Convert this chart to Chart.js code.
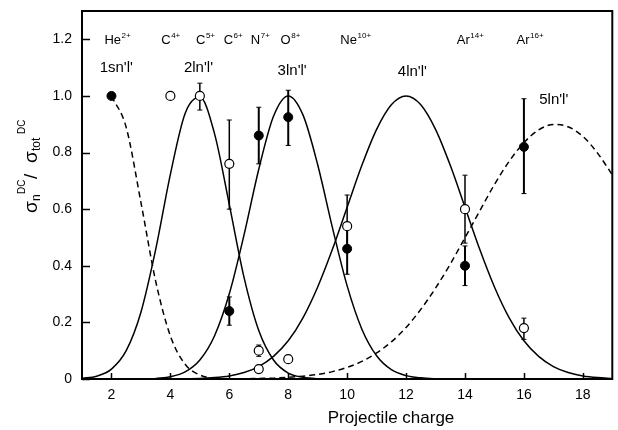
<!DOCTYPE html>
<html>
<head>
<meta charset="utf-8">
<script src="https://cdn.jsdelivr.net/npm/chart.js@4.4.1/dist/chart.umd.min.js"></script>
<style>
  body { margin: 0; background: #fff; }
  #wrap { width: 618px; height: 430px; position: relative; }
</style>
</head>
<body>
<div id="wrap"><canvas id="chart"></canvas></div>
<script>
const FONT = '"Liberation Sans", Arial, sans-serif';

// projectile charge grid for the fitted shell curves
const chargeGrid = [1, 1.5, 2, 2.5, 3, 3.5, 4, 4.5, 5, 5.5, 6, 6.5, 7, 7.5, 8, 8.5, 9, 9.5,
  10, 10.5, 11, 11.5, 12, 12.5, 13, 13.5, 14, 14.5, 15, 15.5, 16, 16.5, 17, 17.5, 18, 18.5, 19];

// curves (null = not drawn)
const curve1s = [null, null, 1.0, 0.889, 0.624, 0.346, 0.152, 0.052, 0.014, 0.003, 0.0];
const curve2l = [0.002, 0.010, 0.035, 0.100, 0.236, 0.457, 0.723, 0.938, 0.996, 0.866, 0.616,
  0.359, 0.171, 0.067, 0.021, 0.006, 0.001, 0.0];
const curve3l = [null, null, null, null, null, 0.002, 0.008, 0.025, 0.067, 0.153, 0.301, 0.509,
  0.741, 0.928, 1.0, 0.933, 0.757, 0.535, 0.329, 0.176, 0.082, 0.033, 0.012, 0.004, 0.001, 0.0];
const curve4l = [null, null, null, null, null, null, 0.0, 0.001, 0.002, 0.005, 0.011, 0.023,
  0.044, 0.080, 0.135, 0.216, 0.325, 0.458, 0.607, 0.755, 0.882, 0.969, 1.0, 0.969, 0.882,
  0.755, 0.607, 0.458, 0.325, 0.216, 0.135, 0.080, 0.044, 0.023, 0.011, 0.005, 0.002];
const curve5l = [null, null, null, null, null, null, null, null, null, null, 0.0005, 0.001,
  0.002, 0.003, 0.006, 0.010, 0.016, 0.026, 0.041, 0.062, 0.092, 0.131, 0.182, 0.246, 0.321,
  0.406, 0.499, 0.594, 0.687, 0.769, 0.835, 0.880, 0.899, 0.891, 0.857, 0.798, 0.721];

// measured points
const filledX  = [2, 6, 7, 8, 10, 14, 16];
const filledY  = [1.0, 0.24, 0.86, 0.925, 0.46, 0.40, 0.82];
const filledLo = [null, 0.19, 0.76, 0.825, 0.37, 0.33, 0.655];
const filledHi = [null, 0.29, 0.96, 1.02, 0.55, 0.47, 0.99];

const openX  = [4, 5, 6, 7, 7, 8, 10, 14, 16];
const openY  = [1.0, 1.0, 0.76, 0.10, 0.035, 0.07, 0.54, 0.60, 0.18];
const openLo = [null, 0.95, 0.60, 0.08, null, null, 0.45, 0.48, 0.14];
const openHi = [null, 1.045, 0.915, 0.12, null, null, 0.65, 0.72, 0.215];

const xTickValues = [2, 4, 6, 8, 10, 12, 14, 16, 18];
const yTickValues = [0, 0.2, 0.4, 0.6, 0.8, 1.0, 1.2];
const yTickLabels = ['0', '0.2', '0.4', '0.6', '0.8', '1.0', '1.2'];

const ionSymbols = ['He', 'C', 'C', 'C', 'N', 'O', 'Ne', 'Ar', 'Ar'];
const ionCharges = ['2+', '4+', '5+', '6+', '7+', '8+', '10+', '14+', '16+'];
const ionAt = [1.76, 3.69, 4.87, 5.81, 6.73, 7.74, 9.77, 13.72, 15.75];

const shellLabels = ["1sn'l'", "2ln'l'", "3ln'l'", "4ln'l'", "5ln'l'"];
const shellAtX = [1.6, 4.46, 7.64, 11.72, 16.52];
const shellAtY = [1.10, 1.10, 1.09, 1.085, 0.985];

function toPoints(ys) {
  const pts = [];
  ys.forEach((v, i) => { if (v != null) pts.push({ x: chargeGrid[i], y: v }); });
  return pts;
}

function curve(ys, dashed) {
  return {
    data: toPoints(ys),
    showLine: true,
    borderColor: '#000',
    borderWidth: 1.5,
    borderDash: dashed ? [6, 4] : [],
    pointRadius: 0,
    cubicInterpolationMode: 'monotone'
  };
}

const errorBars = {
  id: 'errorBars',
  beforeDatasetsDraw(chart) {
    const { ctx, scales: { x, y } } = chart;
    ctx.save();
    ctx.strokeStyle = '#000';
    [[filledX, filledLo, filledHi, 2], [openX, openLo, openHi, 1.5]].forEach(([xs, lo, hi, lw]) => {
      xs.forEach((v, i) => {
        if (lo[i] == null) return;
        const px = x.getPixelForValue(v);
        const y1 = y.getPixelForValue(lo[i]);
        const y2 = y.getPixelForValue(hi[i]);
        ctx.lineWidth = lw;
        ctx.beginPath();
        ctx.moveTo(px, y1);
        ctx.lineTo(px, y2);
        ctx.stroke();
        ctx.lineWidth = 1;
        ctx.beginPath();
        ctx.moveTo(px - 2.5, y1); ctx.lineTo(px + 2.5, y1);
        ctx.moveTo(px - 2.5, y2); ctx.lineTo(px + 2.5, y2);
        ctx.stroke();
      });
    });
    ctx.restore();
  }
};

const decorations = {
  id: 'decorations',
  afterDraw(chart) {
    const { ctx, chartArea: a, scales: { x, y } } = chart;
    ctx.save();
    ctx.strokeStyle = '#000';
    ctx.fillStyle = '#000';

    // frame + inward ticks
    ctx.lineWidth = 2;
    ctx.strokeRect(a.left, a.top, a.right - a.left, a.bottom - a.top);
    ctx.lineWidth = 1.5;
    ctx.beginPath();
    yTickValues.forEach(v => {
      const py = Math.round(y.getPixelForValue(v)) + 0.5;
      ctx.moveTo(a.left, py); ctx.lineTo(a.left + 8, py);
    });
    xTickValues.forEach(v => {
      const px = Math.round(x.getPixelForValue(v)) + 0.5;
      ctx.moveTo(px, a.bottom); ctx.lineTo(px, a.bottom - 6);
    });
    ctx.stroke();

    // ion labels
    ctx.textAlign = 'left';
    ctx.textBaseline = 'alphabetic';
    ionSymbols.forEach((s, i) => {
      const px = x.getPixelForValue(ionAt[i]);
      const py = y.getPixelForValue(1.2) + 5;
      ctx.font = `13px ${FONT}`;
      ctx.fillText(s, px, py);
      const w = ctx.measureText(s).width;
      ctx.font = `8px ${FONT}`;
      ctx.fillText(ionCharges[i], px + w + 0.5, py - 6);
    });

    // shell labels
    ctx.font = `15px ${FONT}`;
    ctx.textBaseline = 'middle';
    shellLabels.forEach((s, i) => {
      ctx.fillText(s, x.getPixelForValue(shellAtX[i]), y.getPixelForValue(shellAtY[i]));
    });

    // x title
    ctx.textAlign = 'center';
    ctx.textBaseline = 'alphabetic';
    ctx.font = `17px ${FONT}`;
    ctx.fillText('Projectile charge', 391, 423);

    // y title: sigma_n^DC / sigma_tot^DC
    ctx.translate(37, 213);
    ctx.rotate(-Math.PI / 2);
    ctx.textAlign = 'left';
    const part = (txt, u, v, size) => {
      ctx.font = `${size}px ${FONT}`;
      ctx.fillText(txt, u, v);
    };
    part('σ', 0, 0, 19);
    part('n', 12, 3, 12);
    part('DC', 19, -12, 10);
    part('/', 34, 0, 19);
    part('σ', 50, 0, 19);
    part('tot', 62, 3, 12);
    part('DC', 79, -12, 10);
    ctx.restore();
  }
};

new Chart(document.getElementById('chart'), {
  type: 'scatter',
  data: {
    datasets: [
      {
        data: filledX.map((v, i) => ({ x: v, y: filledY[i] })),
        pointRadius: 4.5,
        pointBackgroundColor: '#000',
        pointBorderColor: '#000',
        pointBorderWidth: 1
      },
      {
        data: openX.map((v, i) => ({ x: v, y: openY[i] })),
        pointRadius: 4.5,
        pointBackgroundColor: '#fff',
        pointBorderColor: '#000',
        pointBorderWidth: 1.2
      },
      curve(curve1s, true),
      curve(curve2l, false),
      curve(curve3l, false),
      curve(curve4l, false),
      curve(curve5l, true)
    ]
  },
  options: {
    responsive: true,
    maintainAspectRatio: false,
    animation: false,
    layout: { padding: { top: 11, right: 3, left: 0, bottom: 0 } },
    plugins: { legend: { display: false }, tooltip: { enabled: false } },
    scales: {
      x: {
        type: 'linear',
        min: 1,
        max: 19,
        grid: { display: false, drawTicks: false },
        border: { display: false },
        afterBuildTicks: s => { s.ticks = xTickValues.map(v => ({ value: v })); },
        afterFit: s => { s.height = 51; s.paddingLeft = 0; s.paddingRight = 0; },
        ticks: {
          padding: 8,
          color: '#000',
          font: { family: FONT, size: 14 },
          callback: v => String(v)
        }
      },
      y: {
        type: 'linear',
        min: 0,
        max: 1.3,
        grid: { display: false, drawTicks: false },
        border: { display: false },
        afterBuildTicks: s => { s.ticks = yTickValues.map(v => ({ value: v })); },
        afterFit: s => { s.width = 82; s.paddingTop = 0; s.paddingBottom = 0; },
        ticks: {
          padding: 10,
          color: '#000',
          font: { family: FONT, size: 14 },
          callback: (v, i) => yTickLabels[i]
        }
      }
    }
  },
  plugins: [errorBars, decorations]
});
</script>
</body>
</html>
